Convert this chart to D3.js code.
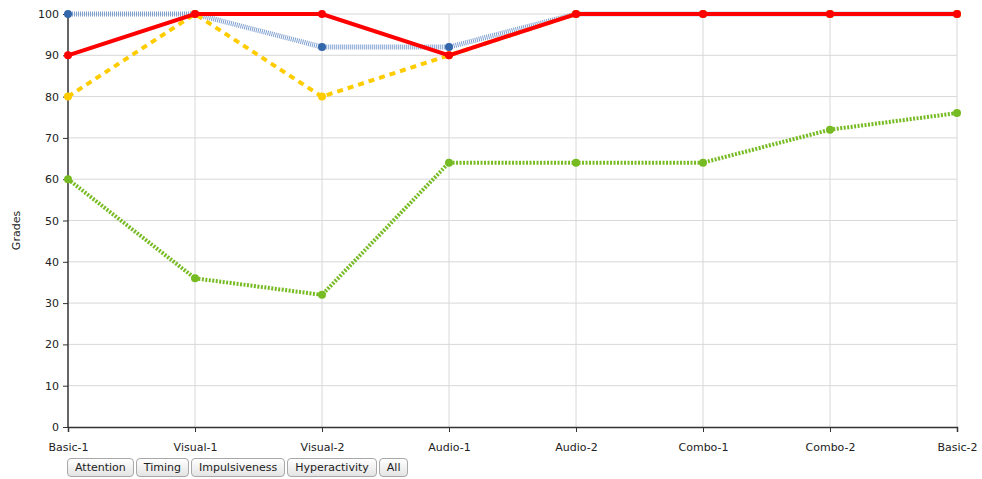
<!DOCTYPE html>
<html>
<head>
<meta charset="utf-8">
<script src="https://cdn.jsdelivr.net/npm/d3@7"></script>
<style>
  body { margin: 0; background: #fff; font-family: "DejaVu Sans", Verdana, sans-serif; }
  #chart { position: relative; width: 982px; height: 479px; }
  .btns { position: absolute; left: 67px; top: 458px; display: flex; gap: 2px; }
  .btns button {
    font-family: "DejaVu Sans", Verdana, sans-serif; font-size: 11px; color: #222;
    height: 19px; padding: 0 7px; border: 1px solid #a8a8a8; border-radius: 4px;
    background: linear-gradient(#ffffff, #e4e4e4); line-height: 17px;
  }
</style>
</head>
<body>
<div id="chart"></div>
<script>
const categories = ["Basic-1", "Visual-1", "Visual-2", "Audio-1", "Audio-2", "Combo-1", "Combo-2", "Basic-2"];
const attention = [100, 100, 92, 92, 100, 100, 100, 100];
const timing = [80, 100, 80, 90, 100, 100, 100, 100];
const impulsiveness = [60, 36, 32, 64, 64, 64, 72, 76];
const hyperactivity = [90, 100, 100, 90, 100, 100, 100, 100];
const yTicks = [0, 10, 20, 30, 40, 50, 60, 70, 80, 90, 100];
const buttonLabels = ["Attention", "Timing", "Impulsiveness", "Hyperactivity", "All"];

var margin = {top: 14, right: 25, bottom: 52, left: 68},
    width = 982 - margin.left - margin.right,
    height = 479 - margin.top - margin.bottom;

const svg = d3.select("#chart").append("svg")
    .attr("width", 982).attr("height", 479)
    .append("g")
    .attr("transform", "translate(" + margin.left + "," + margin.top + ")");

const xScale = d3.scalePoint().domain(categories).range([0, width]);
const yScale = d3.scaleLinear().domain([0, 100]).range([height, 0]);

// grid
svg.append("g").selectAll("line").data(yTicks.filter(d => d > 0)).enter().append("line")
   .attr("x1", 0).attr("x2", width)
   .attr("y1", d => yScale(d)).attr("y2", d => yScale(d))
   .attr("stroke", "#d8d8d8").attr("stroke-width", 1);
svg.append("g").selectAll("line").data(categories.slice(1)).enter().append("line")
   .attr("x1", d => xScale(d)).attr("x2", d => xScale(d))
   .attr("y1", 0).attr("y2", height)
   .attr("stroke", "#d8d8d8").attr("stroke-width", 1);

// axes
const yAxis = d3.axisLeft(yScale).tickValues(yTicks).tickSize(5).tickPadding(4);
const xAxis = d3.axisBottom(xScale).tickSize(5).tickPadding(11);

const gy = svg.append("g").call(yAxis);
const gx = svg.append("g").attr("transform", "translate(0," + height + ")").call(xAxis);
[gx, gy].forEach(g => {
  g.select(".domain").attr("stroke", "#333").attr("stroke-width", 1.5);
  g.selectAll(".tick line").attr("stroke", "#333");
  g.selectAll("text").attr("fill", "#222").style("font-size", "11px")
   .style("font-family", "'DejaVu Sans', Verdana, sans-serif");
});
gy.select(".domain").attr("d", "M0," + height + "V0");

svg.append("text")
   .attr("transform", "rotate(-90)")
   .attr("x", -height / 2 - 10).attr("y", -48)
   .attr("text-anchor", "middle")
   .style("font-size", "11px").attr("fill", "#222")
   .text("Grades");

const series = [
  {values: attention, color: "#7f9fcf", dot: "#3366aa", dash: "1,1", w: 5},
  {values: timing, color: "#ffcc00", dot: "#ffcc00", dash: "6,5", w: 4},
  {values: impulsiveness, color: "#77bb22", dot: "#77bb22", dash: "2,1.5", w: 4},
  {values: hyperactivity, color: "#ff0000", dot: "#ff0000", dash: null, w: 4}
];

const line = d3.line().x((d, i) => xScale(categories[i])).y(d => yScale(d));

series.forEach(s => {
  svg.append("path").datum(s.values)
     .attr("d", line).attr("fill", "none")
     .attr("stroke", s.color).attr("stroke-width", s.w)
     .attr("stroke-dasharray", s.dash);
  svg.append("g").selectAll("circle").data(s.values).enter().append("circle")
     .attr("cx", (d, i) => xScale(categories[i]))
     .attr("cy", d => yScale(d))
     .attr("r", 4).attr("fill", s.dot);
});

d3.select("#chart").append("div").attr("class", "btns")
  .selectAll("button").data(buttonLabels).enter().append("button")
  .text(d => d);
</script>
</body>
</html>
